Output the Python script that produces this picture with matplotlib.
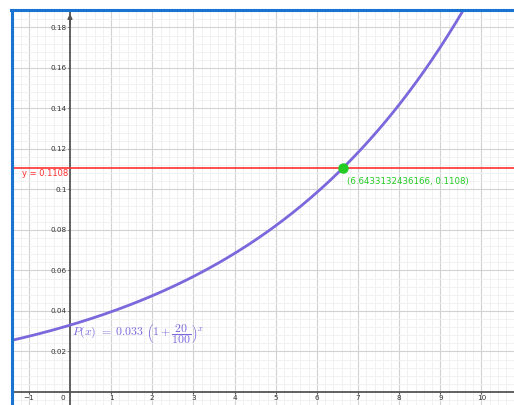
import matplotlib
matplotlib.use('Agg')
import numpy as np
import matplotlib.pyplot as plt
from matplotlib.ticker import MultipleLocator, FixedLocator, FuncFormatter
from matplotlib.lines import Line2D

# function P(x) = a * (1 + r/100)^x
a = 0.033
r = 20
level = 0.1108
hit_x = 6.6433132436166
hit_label = '(6.6433132436166, 0.1108)'
line_label = 'y = 0.1108'

xticks = [-1, 1, 2, 3, 4, 5, 6, 7, 8, 9, 10]
yticks = [0.02, 0.04, 0.06, 0.08, 0.1, 0.12, 0.14, 0.16, 0.18]

purple = '#7a68dc'
red = '#ff3030'
green = '#22cc22'
axcol = '#555555'

fig = plt.figure(figsize=(5.14, 4.05), dpi=100)
ax = fig.add_axes([13/514, 0, 501/514, 394/405])
ax.set_xlim(-1.385, 10.79)
ax.set_ylim(-0.00642, 0.1881)

# grid
ax.xaxis.set_minor_locator(MultipleLocator(0.2))
ax.yaxis.set_minor_locator(MultipleLocator(0.004))
ax.xaxis.set_major_locator(FixedLocator(xticks))
ax.yaxis.set_major_locator(FixedLocator(yticks))
ax.grid(which='minor', color='#efefef', lw=0.6)
ax.grid(which='major', color='#d2d2d2', lw=0.8)
ax.set_axisbelow(True)

# axes through the origin
for s in ['top', 'right']:
    ax.spines[s].set_visible(False)
ax.spines['left'].set_position(('data', 0))
ax.spines['bottom'].set_position(('data', 0))
ax.spines['left'].set_color(axcol)
ax.spines['bottom'].set_color(axcol)
ax.spines['left'].set_linewidth(1.3)
ax.spines['bottom'].set_linewidth(1.3)
ax.tick_params(which='minor', length=0)
ax.tick_params(which='major', direction='out', length=1.5, width=0.8, color=axcol,
               labelsize=5.2, labelcolor='#333333', pad=1)
ax.yaxis.set_major_formatter(FuncFormatter(lambda v, p: '%g' % v))
ax.text(-0.12, -0.0016, '0', fontsize=5.2, color='#333333', ha='right', va='top')
ax.annotate('', xy=(0, 0.1881), xytext=(0, 0.180),
            arrowprops=dict(arrowstyle='-|>', color=axcol, lw=1.3,
                            mutation_scale=6), annotation_clip=False)

# curve
xs = np.linspace(-1.5, 11, 400)
ax.plot(xs, a * (1 + r / 100) ** xs, color=purple, lw=2, zorder=3)
ax.axhline(level, color=red, lw=1.2, zorder=3)
ax.plot([hit_x], [level], 'o', color=green, ms=6.5, zorder=4)

ax.text(-0.05, 0.108, line_label, color=red, fontsize=6, ha='right', va='center')
ax.text(6.73, 0.1037, hit_label, color=green, fontsize=6.2, ha='left', va='center')
ax.text(0.05, 0.0286, r'$P(x)\ =\ 0.033\ \left(1+\dfrac{20}{100}\right)^x$',
        color=purple, fontsize=8.5, ha='left', va='center', math_fontfamily='cm')

# blue frame of the graphics view
fig.add_artist(Line2D([12/514, 12/514], [0, 395/405], color='#1a73d0', lw=2.2))
fig.add_artist(Line2D([11/514, 1], [395/405, 395/405], color='#1a73d0', lw=2.2))

fig.savefig('out.png', dpi=100)
